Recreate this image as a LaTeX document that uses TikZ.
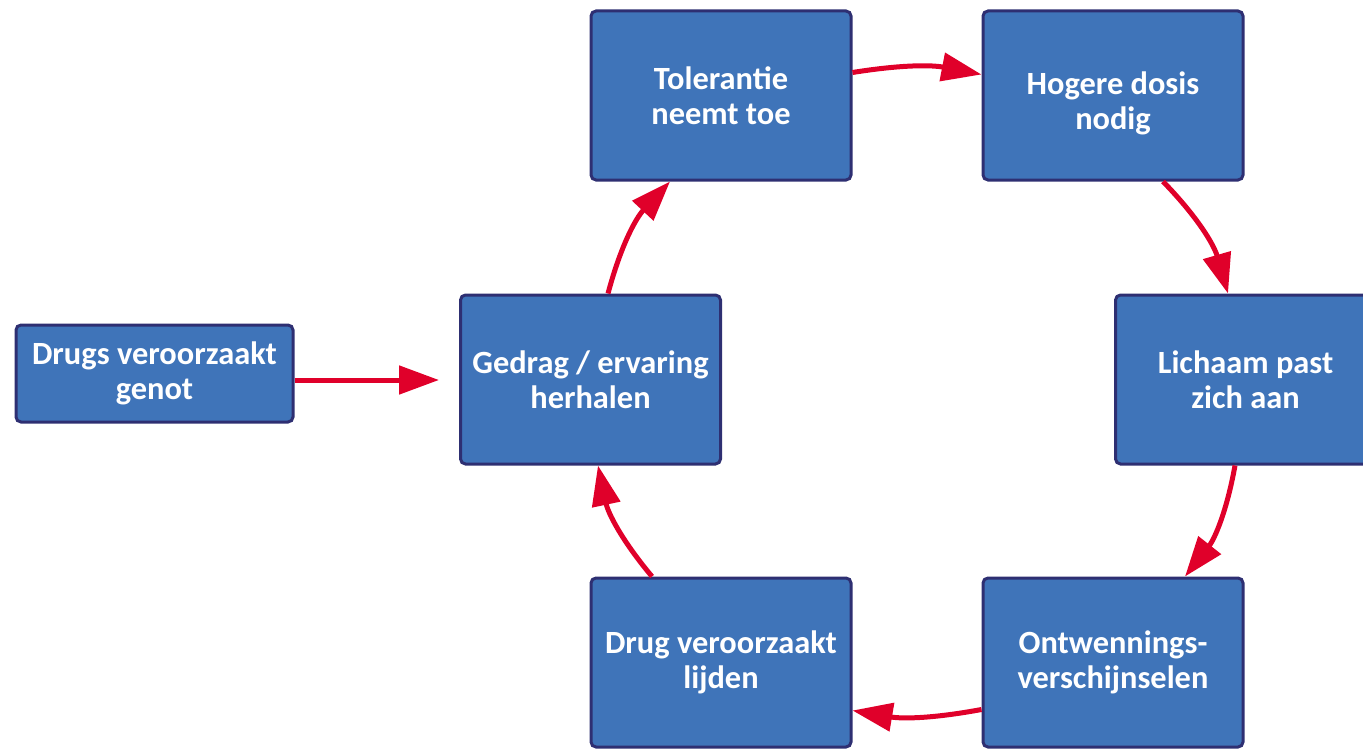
\documentclass[tikz,border=0pt]{standalone}
\usepackage{fontspec}
\setmainfont{Carlito}
\usetikzlibrary{arrows.meta,calc}
\definecolor{boxfill}{HTML}{3F74B9}
\definecolor{boxline}{HTML}{2E2F72}
\definecolor{arrred}{HTML}{E0002A}
\tikzset{
  cyclebox/.style={draw=boxline, fill=boxfill, line width=1.5pt, rounded corners=2.5pt,
    minimum width=130pt, minimum height=84.5pt, align=center, text=white,
    font=\fontsize{16.2}{17.6}\selectfont\bfseries, inner sep=2pt},
  arr/.style={draw=arrred, line width=2.5pt, -{Triangle[length=20pt,width=14pt]}}
}
\begin{document}
\begin{tikzpicture}[x=0.5pt,y=-0.5pt]
\useasboundingbox (0,0) rectangle (1363,749);
\node[cyclebox] (tol) at (721,95.5) {Tolerantie\\neemt toe};
\node[cyclebox] (hog) at (1113,95.5) {\rule{0pt}{19pt}Hogere dosis\\nodig};
\node[cyclebox] (lic) at (1245.5,379.5) {Lichaam past\\zich aan};
\node[cyclebox] (ont) at (1113,662.5) {Ontwennings-\\verschijnselen};
\node[cyclebox] (lij) at (721,662.5) {Drug veroorzaakt\\lijden};
\node[cyclebox] (ged) at (590.5,379.5) {Gedrag / ervaring\\herhalen};
\node[cyclebox, minimum width=138.5pt, minimum height=48.5pt] (gen) at (154.5,373.5) {Drugs veroorzaakt\\genot};
\coordinate (genend) at ($(ged.west)+(-20,0)$);
\draw[arr] (gen.east |- 0,380) -- (genend |- 0,380);
\draw[arr] ($(tol.east)+(0,-23)$) to[bend left=10] ($(hog.west)+(0,-21)$);
\draw[arr] ($(hog.south)+(50,0)$) to[bend left=14] ($(lic.north)+(-17.5,0)$);
\draw[arr] ($(lic.south)+(-10.5,0)$) to[bend left=14] ($(ont.north)+(72,0)$);
\draw[arr] ($(ont.west)+(0,47)$) to[bend left=10] ($(lij.east)+(0,48)$);
\draw[arr] ($(lij.north)+(-69,0)$) to[bend left=14] ($(ged.south)+(7.5,0)$);
\draw[arr] ($(ged.north)+(17.5,0)$) to[bend left=14] ($(tol.south)+(-51,0)$);
\end{tikzpicture}
\end{document}
